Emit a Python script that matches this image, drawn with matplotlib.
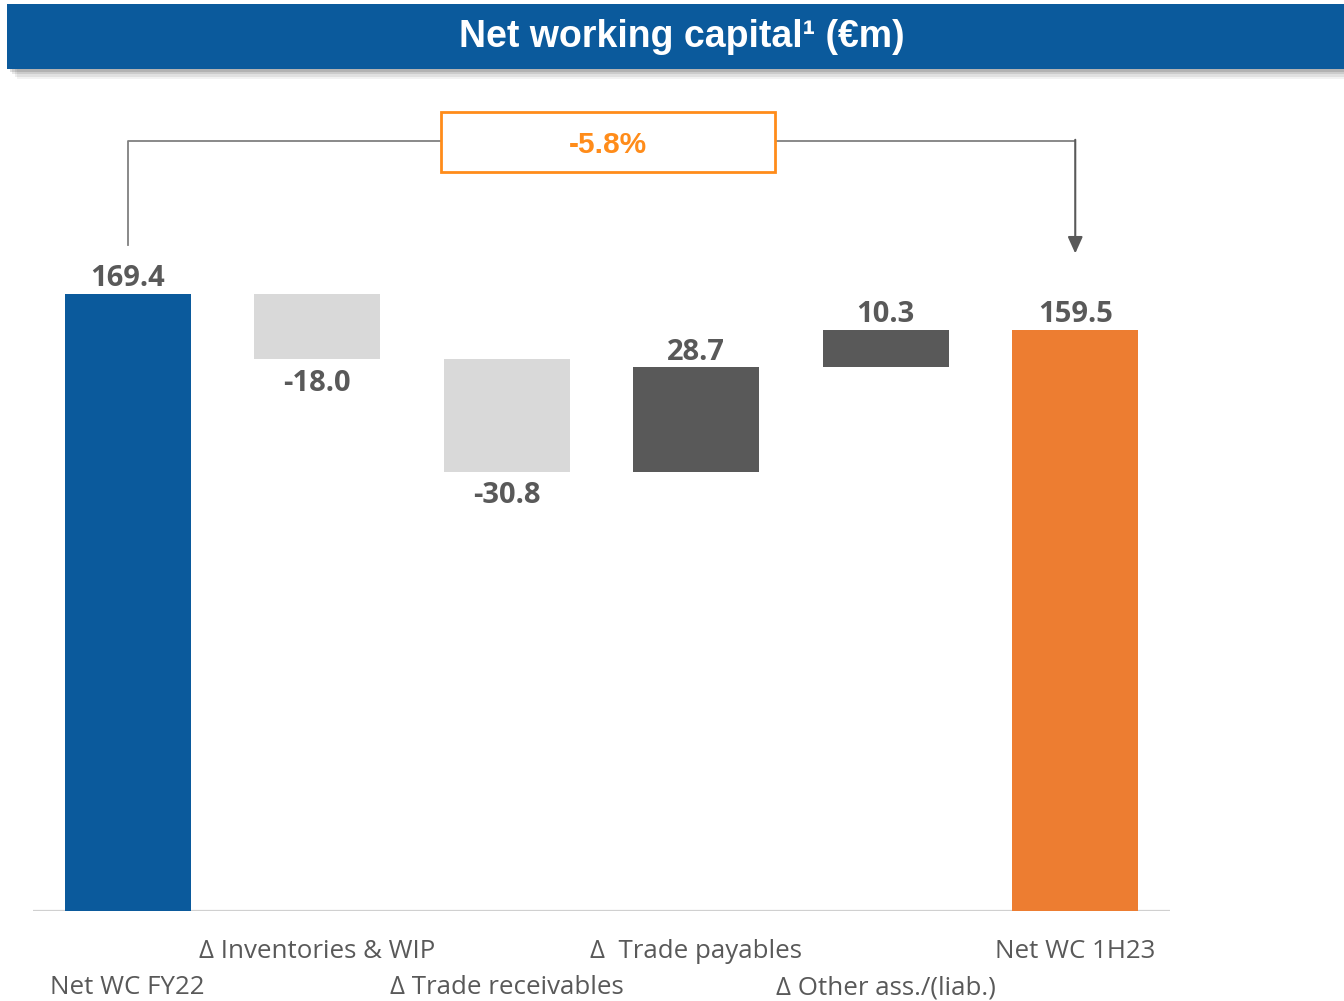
import matplotlib
matplotlib.use('Agg')
import matplotlib.pyplot as plt
from matplotlib.patches import Rectangle

# Net working capital bridge, FY22 -> 1H23 (EUR m)
categories = ['Net WC FY22', 'Δ Inventories & WIP', 'Δ Trade receivables',
              'Δ  Trade payables', 'Δ Other ass./(liab.)', 'Net WC 1H23']
values = [169.4, -18.0, -30.8, 28.7, 10.3, 159.5]
is_total = [True, False, False, False, False, True]

BLUE = '#0B5A9C'
ORANGE = '#ED7D31'
LIGHT = '#D9D9D9'
DARK = '#595959'
BOX_ORANGE = '#FF8C1A'

W, H = 1344, 1001
fig = plt.figure(figsize=(W / 100, H / 100), dpi=100)

# title banner with a soft shadow underneath
for k, a in enumerate([0.05, 0.07, 0.09, 0.12]):
    off = (4 - k) * 2.5
    fig.patches.append(Rectangle(((7 + off) / W, 1 - (69 + off) / H), (W - 7) / W, (65) / H,
                                 transform=fig.transFigure, color='black', alpha=a,
                                 lw=0, zorder=0))
fig.patches.append(Rectangle((7 / W, 1 - 69 / H), (W - 7) / W, 65 / H,
                             transform=fig.transFigure, color=BLUE, lw=0, zorder=1))
fig.text(682 / W, 1 - 37 / H, 'Net working capital¹ (€m)',
         color='white', fontsize=27, fontweight='bold', family='Liberation Sans',
         ha='center', va='center', zorder=2)

ax = fig.add_axes([33 / W, 90 / H, 1137 / W, 811 / H])
ax.set_xlim(-0.5, 5.5)
ax.set_ylim(0, 811 / 3.643)
ax.axis('off')
ax.axhline(0, color='#D0D0D0', lw=1.6, zorder=1)

px = 0.72  # points per pixel at dpi 100
running = 0.0
for i, (cat, v, tot) in enumerate(zip(categories, values, is_total)):
    if tot:
        bottom, height = 0.0, v
        color = BLUE if i == 0 else ORANGE
        running = v
    else:
        bottom, height = running, v
        color = LIGHT if v < 0 else DARK
        running += v
    ax.bar(i, height, bottom=bottom, width=0.665, color=color, zorder=2)

    top = max(bottom, bottom + height)
    low = min(bottom, bottom + height)
    if v < 0 and not tot:
        ax.annotate(f'{v:.1f}', (i, low), xytext=(0, -24 * px), textcoords='offset points',
                    ha='center', va='center', fontsize=21, fontweight='bold',
                    color=DARK, family='Open Sans')
    else:
        ax.annotate(f'{v:.1f}', (i, top), xytext=(0, 15 * px), textcoords='offset points',
                    ha='center', va='center', fontsize=21, fontweight='bold',
                    color=DARK, family='Open Sans')

    row = 41 if i % 2 else 77
    ax.annotate(cat, (i, 0), xytext=(0, -row * px), textcoords='offset points',
                ha='center', va='center', fontsize=18.6, color=DARK, family='Open Sans')

# bracket from the opening to the closing balance with the % change
change = (values[-1] - values[0]) / values[0] * 100
bracket_y = values[0] + 42
ax.plot([0, 0, 5], [values[0] + 13.4, bracket_y, bracket_y], color='#808080',
        lw=1.3, clip_on=False, zorder=3)
ax.annotate('', xy=(5, values[-1] + 21), xytext=(5, bracket_y + 0.3),
            arrowprops=dict(arrowstyle='-|>,head_width=0.45,head_length=1.0',
                            color=DARK, lw=1.5, shrinkA=0, shrinkB=0),
            annotation_clip=False, zorder=3)
bx, bw, bh = 2.534, 1.763, 16.5
ax.add_patch(Rectangle((bx - bw / 2, bracket_y - bh / 2 - 0.3), bw, bh, facecolor='white',
                       edgecolor=BOX_ORANGE, lw=2, clip_on=False, zorder=4))
ax.text(bx, bracket_y - 1.2, f'{change:.1f}%', ha='center', va='center', fontsize=21.5,
        fontweight='bold', color=BOX_ORANGE, family='Liberation Sans', zorder=5)

fig.savefig('out.png', dpi=100)
